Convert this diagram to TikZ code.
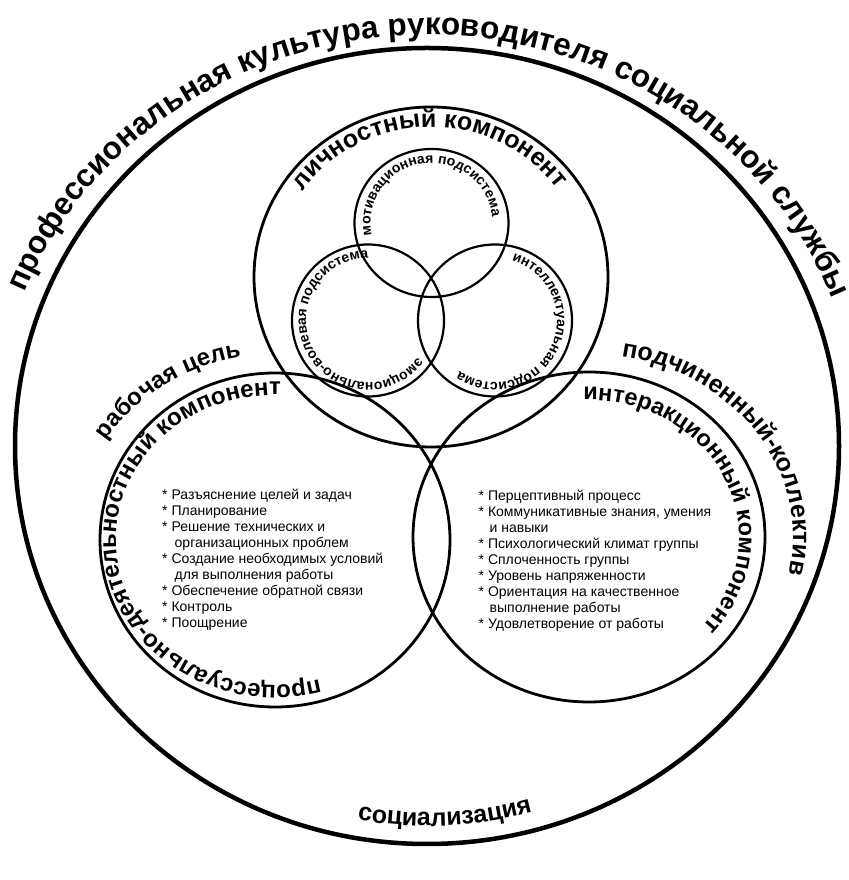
\documentclass[tikz,border=0pt]{standalone}
\usepackage{fontspec}
\setmainfont{Liberation Sans}
\usetikzlibrary{decorations.text,calc}
\newcommand\fTitle{\fontsize{31.5}{32}\selectfont\bfseries}
\newcommand\fComp{\fontsize{25}{26}\selectfont\bfseries}
\newcommand\fCompS{\fontsize{24}{25}\selectfont\bfseries}
\newcommand\fCompT{\fontsize{23.5}{25}\selectfont\bfseries}
\newcommand\fSub{\fontsize{14}{15}\selectfont\bfseries}
\tikzset{
  outerline/.style={line width=4.5pt},
  bigline/.style={line width=2.8pt},
  smallline/.style={line width=2.2pt},
  curvetext/.style={decorate, decoration={text along path, text align=center, text={#1}}},
  listtext/.style={font=\fontsize{14}{16}\selectfont, align=left, inner sep=0pt, anchor=north west}
}
\begin{document}
\begin{tikzpicture}[x=1pt,y=1pt]
\fill[white] (0,0) rectangle (848,880);
\useasboundingbox (0,0) rectangle (848,880);
% centres
\coordinate (O) at (427,434);
\coordinate (P) at (431,603);
\coordinate (L) at (275,340);
\coordinate (R) at (589,343);
\coordinate (M) at (431.5,657);
\coordinate (E) at (368,559.5);
\coordinate (I) at (495,559.5);
% circles
\draw[outerline] (O) ellipse [x radius=412pt, y radius=398pt];
\draw[bigline] (P) ellipse [x radius=177pt, y radius=170pt];
\draw[bigline] (L) ellipse [x radius=175pt, y radius=167pt];
\draw[bigline] (R) ellipse [x radius=176pt, y radius=165pt];
\draw[smallline] (M) ellipse [x radius=77pt, y radius=74pt];
\draw[smallline] (E) ellipse [x radius=76pt, y radius=76pt];
\draw[smallline] (I) ellipse [x radius=77pt, y radius=76pt];
% curved labels (paths longer than the texts, texts centred)
\path[curvetext={|\fTitle|профессиональная культура руководителя социальной службы}]
  ($(O)+(165:434pt and 411pt)$) arc[start angle=165, end angle=14, x radius=434pt, y radius=411pt];
\path[curvetext={|\fComp|личностный компонент}]
  ($(P)+(150.65:156pt and 150pt)$) arc[start angle=150.65, end angle=30.65, x radius=156pt, y radius=150pt];
\path[curvetext={|\fCompS|процессуально-деятельностный компонент}]
  ($(L)+(-62.9:159pt and 145pt)$) arc[start angle=-62.9, end angle=-282.9, x radius=159pt, y radius=145pt];
\path[curvetext={|\fCompS|рабочая цель}]
  ($(L)+(159:200pt and 186pt)$) arc[start angle=159, end angle=89, x radius=200pt, y radius=186pt];
\path[curvetext={|\fCompT|интеракционный компонент}]
  ($(R)+(100.55:150pt and 137pt)$) arc[start angle=100.55, end angle=-49.45, x radius=150pt, y radius=137pt];
\path[curvetext={|\fComp|подчиненный-коллектив}]
  ($(R)+(84.4:204pt and 183pt)$) arc[start angle=84.4, end angle=-15.6, x radius=204pt, y radius=183pt];
\path[curvetext={|\fComp|социализация}]
  ($(O)+(-107.3:392pt and 380pt)$) arc[start angle=-107.3, end angle=-67.3, x radius=392pt, y radius=380pt];
\path[curvetext={|\fSub|мотивационная подсистема}]
  ($(M)+(198.8:61pt and 60pt)$) arc[start angle=198.8, end angle=-1.2, x radius=61pt, y radius=60pt];
\path[curvetext={|\fSub|эмоционально-волевая подсистема}]
  ($(E)+(-28.5:62pt and 62pt)$) arc[start angle=-28.5, end angle=-278.5, x radius=62pt, y radius=62pt];
\path[curvetext={|\fSub|интеллектуальная подсистема}]
  ($(I)+(84.75:62pt and 62pt)$) arc[start angle=84.75, end angle=-135.25, x radius=62pt, y radius=62pt];
% lists
\node[listtext] (leftlist) at (162,391) {%
* Разъяснение целей и задач\\
* Планирование\\
* Решение технических и\\
\hspace*{12.5pt}организационных проблем\\
* Создание необходимых условий\\
\hspace*{12.5pt}для выполнения работы\\
* Обеспечение обратной связи\\
* Контроль\\
* Поощрение};
\node[listtext] (rightlist) at (478.5,390.5) {%
* Перцептивный процесс\\
* Коммуникативные знания, умения\\
\hspace*{11pt}и навыки\\
* Психологический климат группы\\
* Сплоченность группы\\
* Уровень напряженности\\
* Ориентация на качественное\\
\hspace*{11pt}выполнение работы\\
* Удовлетворение от работы};
\end{tikzpicture}
\end{document}
